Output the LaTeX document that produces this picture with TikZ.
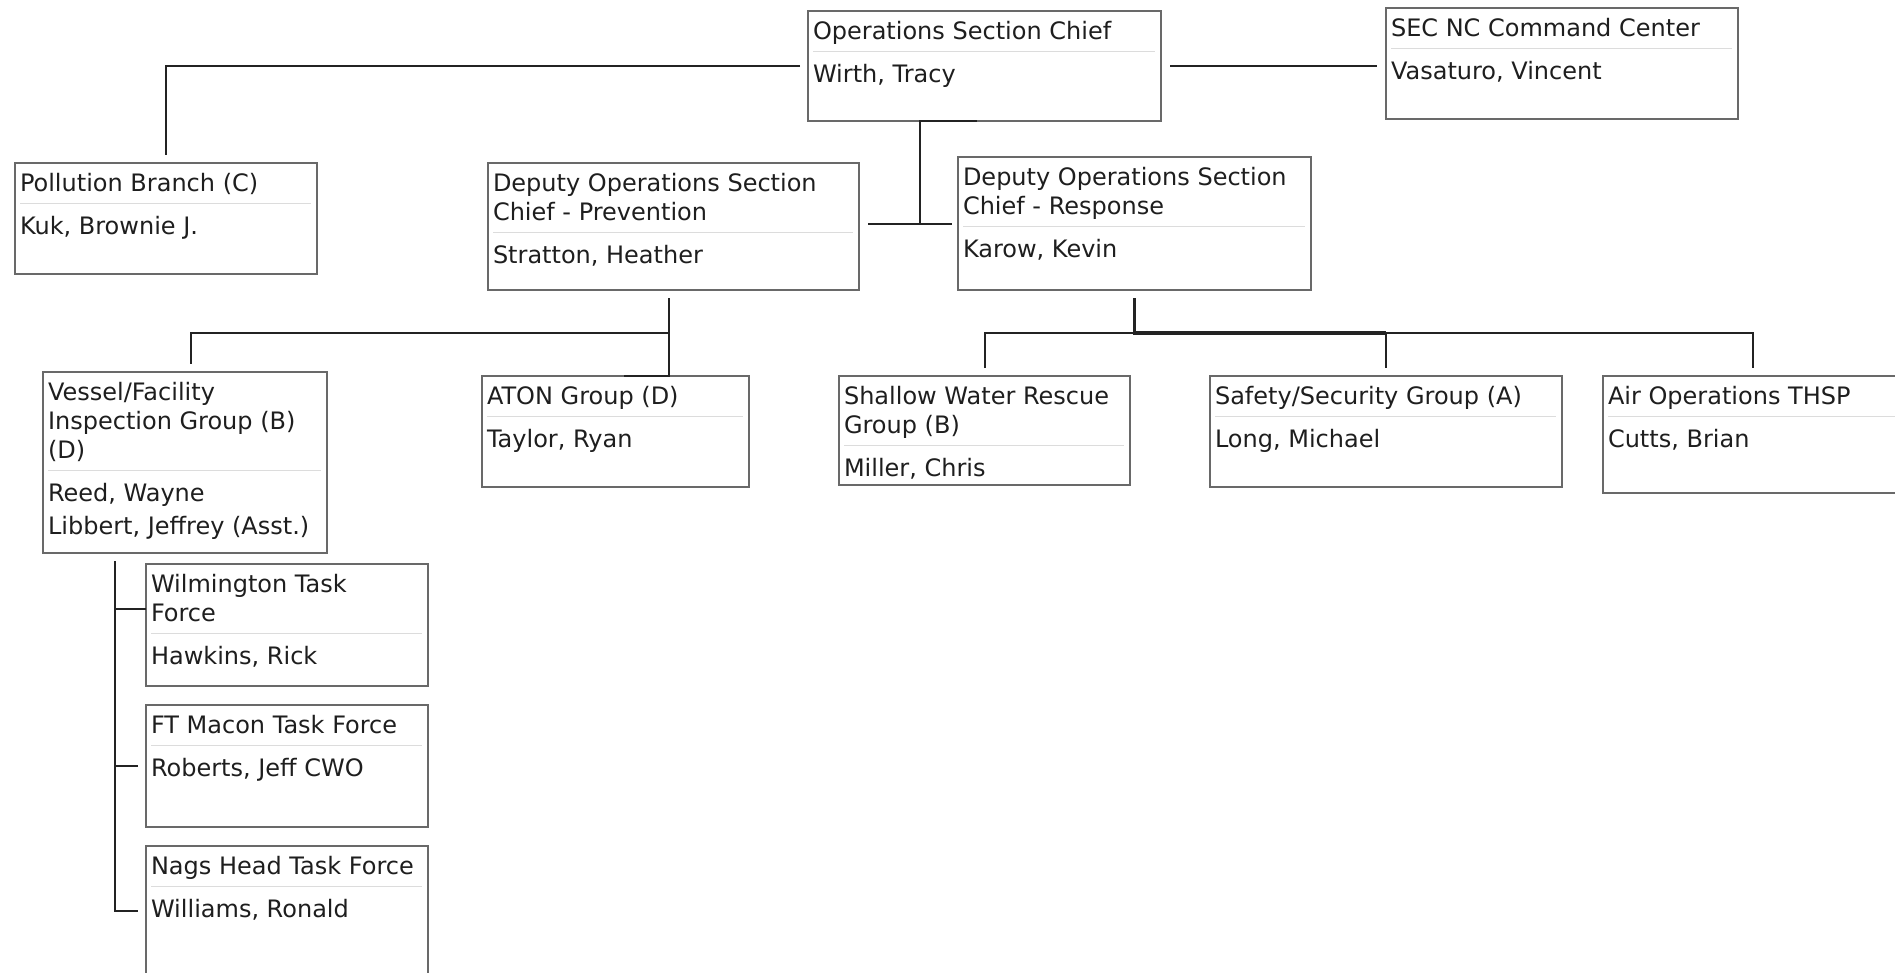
\documentclass[tikz,border=0pt]{standalone}
\usepackage{fontspec}
\setmainfont{DejaVu Sans}
\usepackage{tikz}
\usetikzlibrary{calc}

\definecolor{boxgrey}{RGB}{105,105,105}
\definecolor{divgrey}{RGB}{220,220,220}
\definecolor{linkdark}{RGB}{35,35,35}
\definecolor{textdark}{RGB}{30,30,30}

% one card: width, height, title, person
\newcommand{\unitcard}[4]{%
  \begin{minipage}[t][#2][t]{#1}%
    \raggedright\setlength{\leftskip}{5bp}%
    \noindent\rule{0pt}{28bp}#3\rule[-6bp]{0pt}{6bp}\par
    \nointerlineskip\vspace{6bp}%
    \noindent{\color{divgrey}\rule{\dimexpr#1-11bp\relax}{1.2bp}}\par
    \nointerlineskip
    \setlength{\baselineskip}{33bp}%
    \noindent\rule{0pt}{30bp}#4\par
  \end{minipage}}

\begin{document}
\begin{tikzpicture}[
  unit/.style={draw=boxgrey, line width=2.5bp, anchor=north west, inner sep=0pt, outer sep=0pt, text=textdark, font=\fontsize{24bp}{29bp}\selectfont},
  link/.style={draw=linkdark, line width=2bp},
  thicklink/.style={draw=linkdark, line width=3.5bp}]

\useasboundingbox (0bp,0bp) rectangle (1895bp,-973bp);

% top row
\node (ops) at (808bp,-11bp)[unit] {\unitcard{353bp}{110bp}{Operations Section Chief}{Wirth, Tracy}};
\node (sec) at (1386bp,-8bp)[unit] {\unitcard{352bp}{111bp}{SEC NC Command Center}{Vasaturo, Vincent}};

% second row
\node (poll) at (15bp,-163bp)[unit] {\unitcard{302bp}{111bp}{Pollution Branch (C)}{Kuk, Brownie J.}};
\node (prev) at (488bp,-163bp)[unit] {\unitcard{371bp}{127bp}{Deputy Operations Section\\Chief - Prevention}{Stratton, Heather}};
\node (resp) at (958bp,-157bp)[unit] {\unitcard{353bp}{133bp}{Deputy Operations Section\\Chief - Response}{Karow, Kevin}};

% groups
\node (vessel) at (43bp,-372bp)[unit] {\unitcard{284bp}{181bp}{Vessel/Facility\\Inspection Group (B)\\(D)}{Reed, Wayne\\Libbert, Jeffrey (Asst.)}};
\node (aton) at (482bp,-376bp)[unit] {\unitcard{267bp}{111bp}{ATON Group (D)}{Taylor, Ryan}};
\node (shallow) at (839bp,-376bp)[unit] {\unitcard{291bp}{109bp}{Shallow Water Rescue\\Group (B)}{Miller, Chris}};
\node (safety) at (1210bp,-376bp)[unit] {\unitcard{352bp}{111bp}{Safety/Security Group (A)}{Long, Michael}};
\node (air) at (1603bp,-376bp)[unit] {\unitcard{300bp}{117bp}{Air Operations THSP}{Cutts, Brian}};

% task forces
\node (wilm) at (146bp,-564bp)[unit] {\unitcard{282bp}{122bp}{Wilmington Task\\Force}{Hawkins, Rick}};
\node (macon) at (146bp,-705bp)[unit] {\unitcard{282bp}{122bp}{FT Macon Task Force}{Roberts, Jeff CWO}};
\node (nags) at (146bp,-846bp)[unit] {\unitcard{282bp}{130bp}{Nags Head Task Force}{Williams, Ronald}};

\coordinate (opsjoin) at ([xshift=-65bp,yshift=-103bp]ops.south);
\coordinate (prevjoin) at ([xshift=-5bp,yshift=-43bp]prev.south);
\coordinate (respjoin) at ([yshift=-43bp]resp.south);
\coordinate (vesseljoin) at ([xshift=-70bp,yshift=-8bp]vessel.south);
\coordinate (wilmtick) at ([yshift=16bp]wilm.west);

% chief
\draw [link] ([xshift=-8bp]ops.west) -| ([yshift=8bp]poll.north);
\draw [link] ([xshift=9bp]ops.east) -- ([xshift=-9bp]ops.east -| sec.west);
\draw [link] ([xshift=-8bp]ops.south) -| (opsjoin);
\draw [link] ([xshift=9bp]prev.east |- opsjoin) -- ([xshift=-6bp]resp.west |- opsjoin);

% prevention
\draw [link] ([yshift=-8bp]prev.south -| prevjoin) -- (prevjoin |- aton.north) -- ([xshift=8bp]aton.north);
\draw [link] (prevjoin) -| ([xshift=6bp,yshift=8bp]vessel.north);

% response
\draw [link] ([yshift=8bp]shallow.north) |- (respjoin) -| ([yshift=8bp]air.north);
\draw [thicklink] ([yshift=-8bp]resp.south) -- (respjoin) -- (respjoin -| safety.north);
\draw [link] (respjoin -| safety.north) -- ([yshift=8bp]safety.north);

% task forces
\draw [link] (vesseljoin) |- ([xshift=-8bp]nags.west);
\draw [link] (wilmtick) -- (wilmtick -| vesseljoin);
\draw [link] ([xshift=-8bp]macon.west) -- (macon.west -| vesseljoin);
\end{tikzpicture}
\end{document}
